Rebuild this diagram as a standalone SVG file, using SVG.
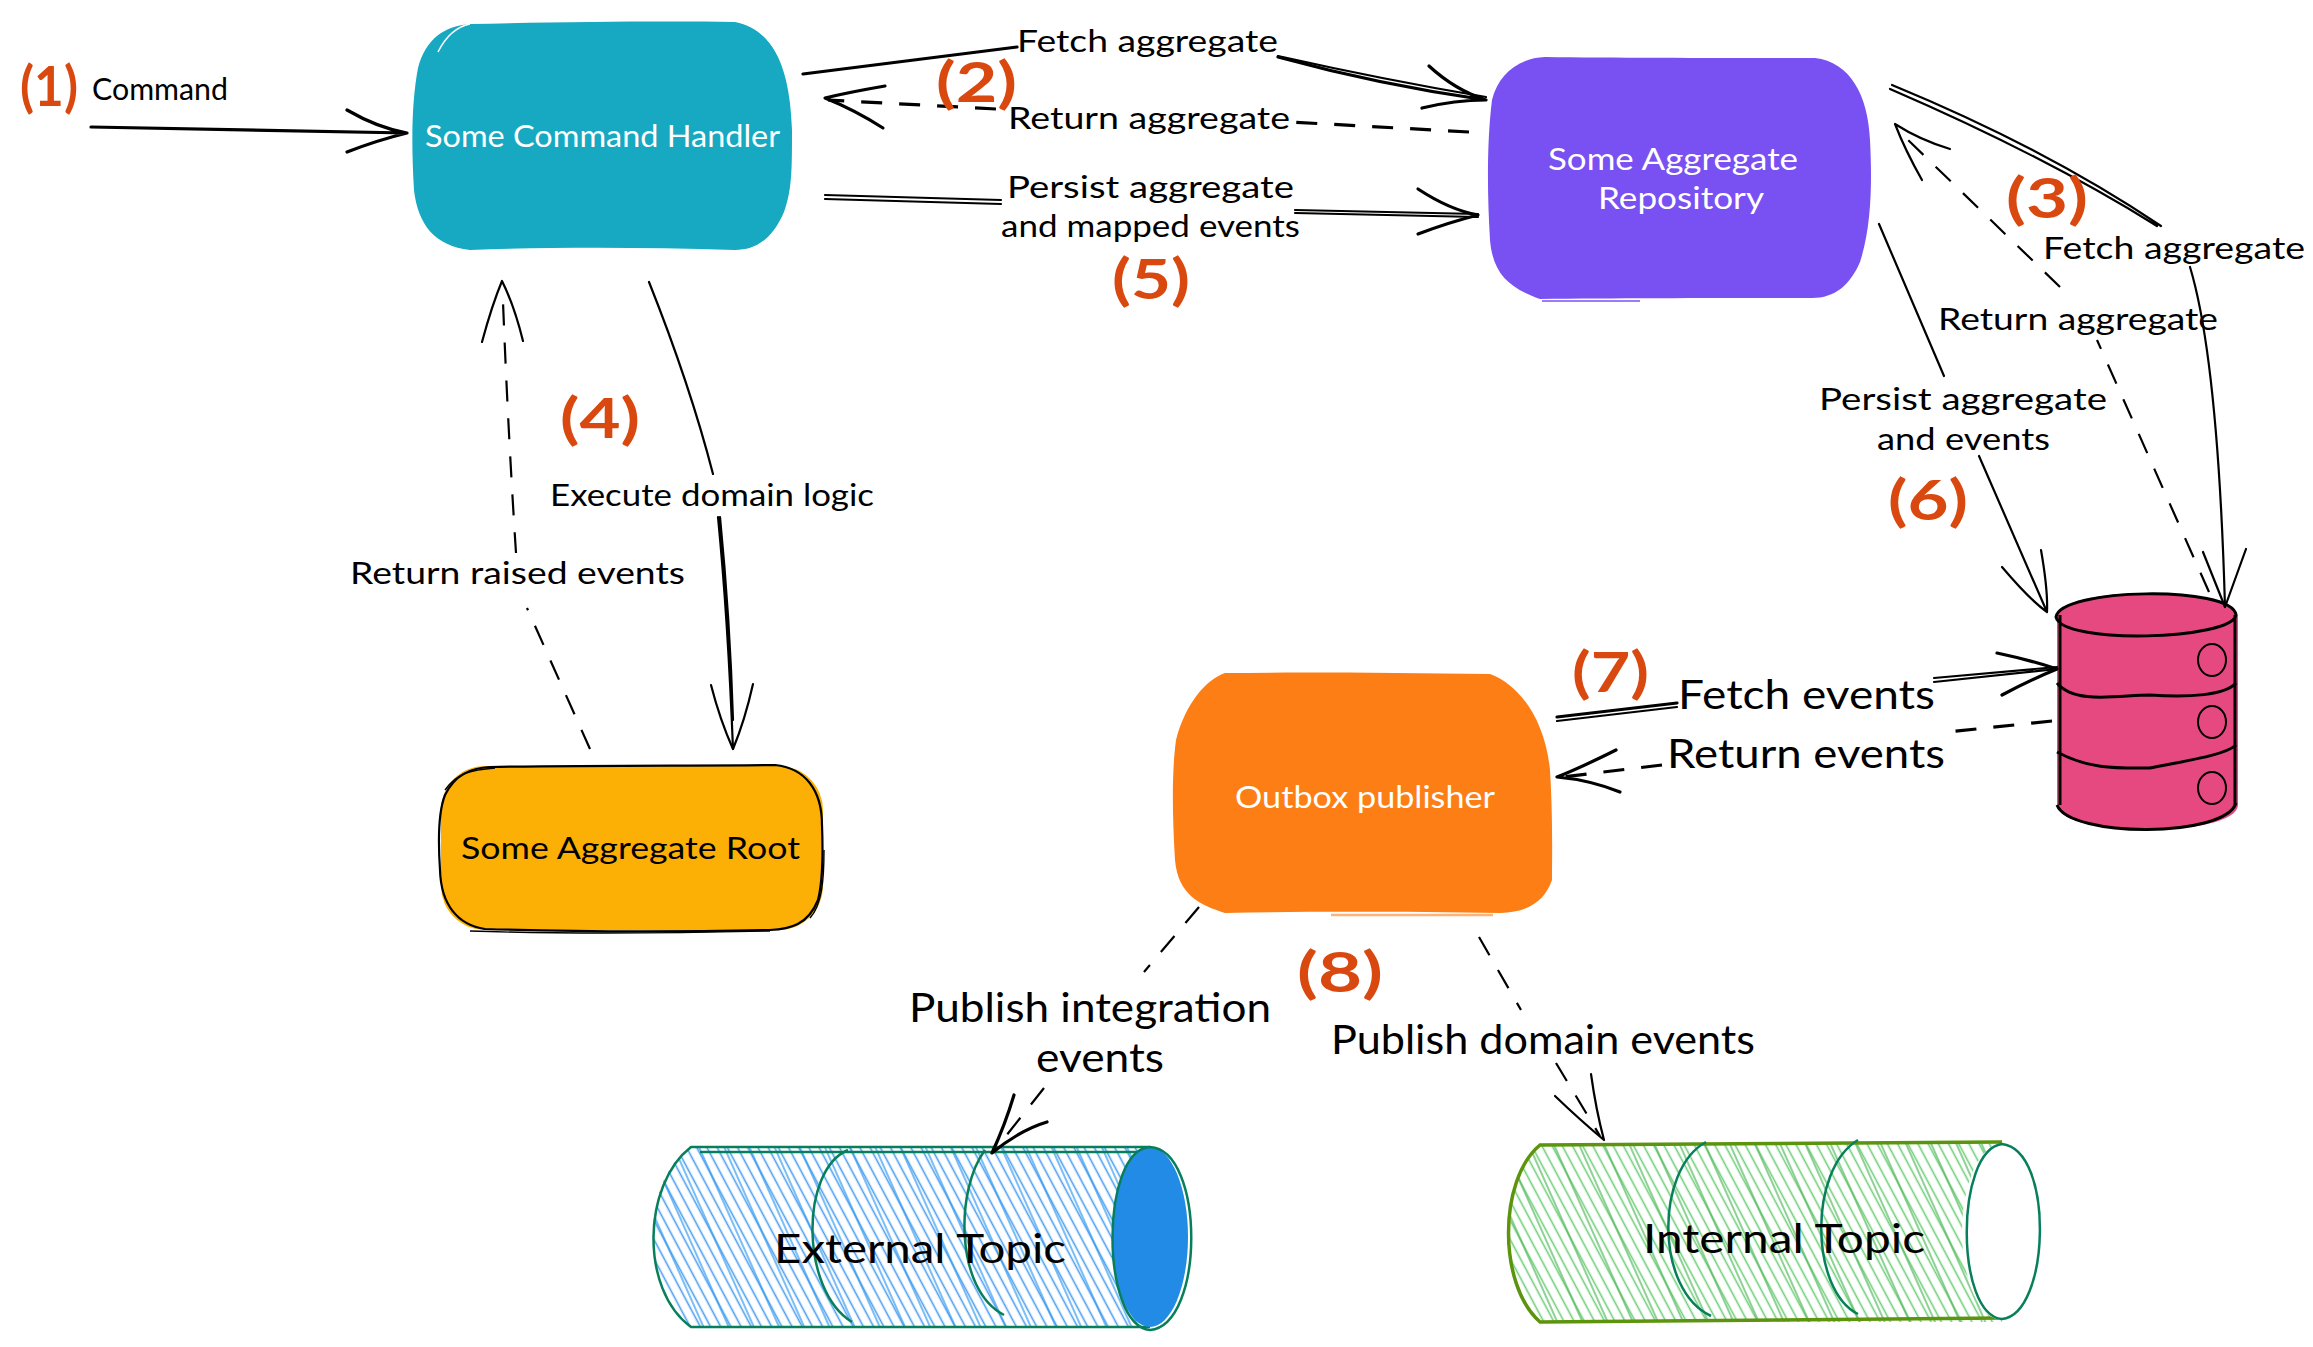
<svg xmlns="http://www.w3.org/2000/svg" width="2313" height="1347" viewBox="0 0 2313 1347">
<defs>
<style>
text{font-family:"Lato","Noto Sans",sans-serif;dominant-baseline:central;fill:#000;stroke:none}
.s{font-size:31px}
.l{font-size:40px}
.w{fill:#fff;font-size:31px}
.n{fill:#d9480f;font-size:56px;font-weight:700}
.c{fill:none;stroke:#000;stroke-width:2.2;stroke-linecap:round;stroke-linejoin:round}
.b{stroke-width:3.2}
.d{stroke-dasharray:21 17;stroke-linecap:butt}
.db{fill:none;stroke:#000;stroke-width:3}
.tp{fill:none;stroke:#087f5b;stroke-width:2.5}
.gr{fill:none;stroke:#5c940d;stroke-width:3.5}
</style>
<pattern id="hb" width="9" height="9" patternUnits="userSpaceOnUse" patternTransform="rotate(-28)"><path d="M4.5 0V9" stroke="#4a9ef0" stroke-width="1.6"/></pattern>
<pattern id="hb2" width="23" height="23" patternUnits="userSpaceOnUse" patternTransform="rotate(-24)"><path d="M11 0V23" stroke="#339af0" stroke-width="1.3"/></pattern>
<pattern id="hg" width="9" height="9" patternUnits="userSpaceOnUse" patternTransform="rotate(-28)"><path d="M4.5 0V9" stroke="#6fce78" stroke-width="1.6"/></pattern>
<pattern id="hg2" width="23" height="23" patternUnits="userSpaceOnUse" patternTransform="rotate(-24)"><path d="M11 0V23" stroke="#51b85c" stroke-width="1.3"/></pattern>
</defs>
<rect width="2313" height="1347" fill="#fff"/>

<g id="node-command-handler">
<path fill="#17a9c1" d="M470 24C560 22 660 21 735 22C775 30 790 70 792 130C792 170 792 190 784 212C772 240 755 250 735 250C640 247 550 247 470 250C435 246 418 225 414 190C411 140 412 100 418 68C426 38 445 26 470 24Z"/>
<path fill="none" stroke="#fff" stroke-width="1.5" d="M438 52Q450 28 470 24M736 20Q775 28 792 90"/>
<text class="w" x="425" y="135" textLength="355" lengthAdjust="spacingAndGlyphs">Some Command Handler</text>
</g>
<g id="node-repository">
<path fill="#7950f2" d="M1545 57C1620 58 1740 58 1815 58C1850 62 1868 95 1870 140C1872 180 1872 225 1860 262C1850 285 1835 298 1812 298C1730 298 1620 298 1540 299C1510 288 1493 275 1490 240C1487 190 1487 140 1492 100C1498 75 1518 58 1545 57Z"/>
<path fill="none" stroke="#9a7df5" stroke-width="2" d="M1542 301H1640"/>
<text class="w" x="1548" y="158" textLength="250" lengthAdjust="spacingAndGlyphs">Some Aggregate</text>
<text class="w" x="1598" y="197" textLength="166" lengthAdjust="spacingAndGlyphs">Repository</text>
</g>
<g id="node-aggregate-root">
<rect x="441" y="766" width="382" height="164" rx="44" fill="#fcb006"/>
<path fill="none" stroke="#000" stroke-width="2.2" d="M490 767C600 765 700 766 775 765C805 768 822 790 822 825C823 850 823 880 818 900C808 925 790 929 770 930C680 932 580 932 485 929C458 925 441 905 440 870C438 840 439 810 445 795C455 775 470 768 490 767Z"/>
<path fill="none" stroke="#000" stroke-width="1.4" d="M445 790C458 772 472 770 495 768M824 850C824 880 822 905 810 918M470 931C560 934 680 933 770 931"/>
<text x="461" y="847" class="s" textLength="339" lengthAdjust="spacingAndGlyphs">Some Aggregate Root</text>
</g>
<g id="node-outbox">
<path fill="#fd7e14" d="M1225 673C1310 672 1400 673 1490 674C1520 685 1545 720 1550 770C1553 820 1552 860 1552 880C1545 900 1530 912 1500 913C1420 912 1320 911 1225 913C1200 905 1178 895 1175 860C1172 810 1172 770 1176 740C1185 705 1205 680 1225 673Z"/>
<path fill="none" stroke="#fff" stroke-width="1.6" d="M1228 669Q1340 670 1490 670"/>
<path fill="none" stroke="#fdb27a" stroke-width="2.5" d="M1331 915H1493"/>
<text class="w" x="1235" y="796" textLength="260" lengthAdjust="spacingAndGlyphs">Outbox publisher</text>
</g>
<g id="node-database">
<path fill="#e64980" d="M2057 617C2058 585 2237 585 2238 617V805C2237 838 2058 838 2057 805Z"/>
<path class="db" d="M2056 617C2060 588 2232 585 2236 615C2232 640 2062 645 2056 617ZM2060 615V805M2235 615V805"/>
<path class="db" stroke-width="2" d="M2057 805C2070 838 2225 838 2236 803M2057 683C2075 705 2120 695 2150 695C2190 698 2225 695 2236 683M2057 752C2090 770 2120 768 2150 768C2190 760 2225 755 2236 745"/>
<g fill="none" stroke="#000" stroke-width="2"><ellipse cx="2212" cy="660" rx="14" ry="16"/><ellipse cx="2212" cy="722" rx="14" ry="16"/><ellipse cx="2212" cy="788" rx="14" ry="16"/></g>
</g>
<g id="node-external-topic">
<path fill="url(#hb)" d="M691 1147H1150V1327H691C640 1290 640 1180 691 1147Z"/>
<path fill="url(#hb2)" d="M691 1147H1150V1327H691C640 1290 640 1180 691 1147Z"/>
<path class="tp" d="M1150 1147H691C642 1185 640 1290 691 1327H1150M700 1152H1146M692 1327H1150"/>
<path class="tp" d="M848 1150C800 1170 800 1290 852 1322M985 1150C955 1190 955 1290 1004 1315"/>
<ellipse cx="1150" cy="1237" rx="38" ry="90" fill="#228be6"/>
<path class="tp" d="M1150 1147C1205 1150 1205 1325 1150 1330C1100 1325 1100 1150 1150 1147Z"/>
<text x="774" y="1248" class="l" textLength="292" lengthAdjust="spacingAndGlyphs">External Topic</text>
</g>
<g id="node-internal-topic">
<path fill="url(#hg)" d="M1540 1144H2002V1322H1540C1500 1290 1500 1175 1540 1144Z"/>
<path fill="url(#hg2)" d="M1540 1144H2002V1322H1540C1500 1290 1500 1175 1540 1144Z"/>
<path class="gr" d="M2002 1142L1540 1145C1498 1180 1498 1285 1540 1322L2002 1318"/>
<path class="tp" d="M1706 1142C1655 1170 1655 1290 1711 1316M1858 1140C1808 1170 1810 1290 1858 1314"/>
<ellipse cx="2002" cy="1232" rx="40" ry="88" fill="#fff"/>
<path class="tp" d="M2002 1144C2055 1150 2050 1315 2002 1319C1955 1315 1955 1150 2002 1144Z"/>
<text x="1643" y="1238" class="l" textLength="282" lengthAdjust="spacingAndGlyphs">Internal Topic</text>
</g>

<g id="connectors">
<path class="c b" d="M91 127L407 133M347 110Q378 128 407 133Q378 140 347 152"/>
<path class="c b" d="M803 74L1017 47M1278 57Q1380 85 1486 100M1429 66Q1455 90 1486 100Q1455 100 1422 108"/>
<path class="c" d="M1278 56Q1385 80 1486 97"/>
<path class="c b d" d="M1469 132L1290 122M996 109L828 100"/>
<path class="c b" d="M885 86Q850 92 825 98Q855 110 883 128"/>
<path class="c" d="M825 195L1001 200M825 199L1001 204M1295 210L1478 214M1295 213L1478 217"/>
<path class="c b" d="M1418 189Q1450 210 1478 215Q1450 222 1418 234"/>
<path class="c" d="M1892 85Q2045 148 2161 226M1890 89Q2043 155 2157 226M2190 267Q2218 360 2225 607"/>
<path class="c" d="M2203 552L2225 607L2246 549"/>
<path class="c d" d="M2209 592L2097 340M2060 287L1908 140"/>
<path class="c" d="M1950 149Q1920 140 1895 124Q1905 150 1922 180"/>
<path class="c" d="M1879 224L1944 376M1979 456L2047 612M2002 567Q2030 600 2047 612Q2048 590 2041 550"/>
<path class="c" d="M649 282Q690 385 713 474M718 517Q728 620 733 749M720 517Q730 620 733 720"/>
<path class="c" d="M711 685Q720 720 733 749Q745 720 753 684"/>
<path class="c d" d="M590 749L527 608M516 553Q508 430 503 302"/>
<path class="c" d="M482 342Q492 305 502 281Q514 305 523 341"/>
<path class="c b" d="M1557 717L1677 703"/>
<path class="c" d="M1557 721L1677 707M1934 682L2057 669M1934 678L2057 667"/>
<path class="c b" d="M1997 653Q2030 660 2057 669Q2030 680 2002 695"/>
<path class="c b d" d="M2052 721L1948 732M1662 765L1562 777"/>
<path class="c b" d="M1616 750Q1580 768 1557 777Q1590 780 1620 792"/>
<path class="c d" d="M1199 907L1144 972M1044 1088L998 1146"/>
<path class="c b" d="M1014 1095Q1005 1125 992 1153Q1020 1130 1047 1122"/>
<path class="c d" d="M1479 937L1521 1010M1556 1063L1600 1136"/>
<path class="c" d="M1555 1096Q1580 1120 1604 1140Q1596 1110 1591 1074"/>
</g>

<g id="labels">
<text class="s" x="92" y="88" textLength="136" lengthAdjust="spacingAndGlyphs">Command</text>
<text class="s" x="1017" y="40" textLength="261" lengthAdjust="spacingAndGlyphs">Fetch aggregate</text>
<text class="s" x="1008" y="117" textLength="282" lengthAdjust="spacingAndGlyphs">Return aggregate</text>
<text class="s" x="1007" y="186" textLength="287" lengthAdjust="spacingAndGlyphs">Persist aggregate</text>
<text class="s" x="1001" y="225" textLength="299" lengthAdjust="spacingAndGlyphs">and mapped events</text>
<text class="s" x="2043" y="247" textLength="262" lengthAdjust="spacingAndGlyphs">Fetch aggregate</text>
<text class="s" x="1938" y="318" textLength="280" lengthAdjust="spacingAndGlyphs">Return aggregate</text>
<text class="s" x="1819" y="398" textLength="288" lengthAdjust="spacingAndGlyphs">Persist aggregate</text>
<text class="s" x="1877" y="438" textLength="173" lengthAdjust="spacingAndGlyphs">and events</text>
<text class="s" x="550" y="494" textLength="324" lengthAdjust="spacingAndGlyphs">Execute domain logic</text>
<text class="s" x="350" y="572" textLength="335" lengthAdjust="spacingAndGlyphs">Return raised events</text>
<text class="l" x="1678" y="694" textLength="257" lengthAdjust="spacingAndGlyphs">Fetch events</text>
<text class="l" x="1667" y="753" textLength="278" lengthAdjust="spacingAndGlyphs">Return events</text>
<text class="l" x="909" y="1007" textLength="362" lengthAdjust="spacingAndGlyphs">Publish integration</text>
<text class="l" x="1036" y="1057" textLength="128" lengthAdjust="spacingAndGlyphs">events</text>
<text class="l" x="1331" y="1039" textLength="424" lengthAdjust="spacingAndGlyphs">Publish domain events</text>
</g>

<g id="step-numbers">
<text class="n" x="20" y="84" textLength="58" lengthAdjust="spacingAndGlyphs">(1)</text>
<text class="n" x="936" y="80" textLength="81" lengthAdjust="spacingAndGlyphs">(2)</text>
<text class="n" x="2006" y="196" textLength="82" lengthAdjust="spacingAndGlyphs">(3)</text>
<text class="n" x="560" y="416" textLength="80" lengthAdjust="spacingAndGlyphs">(4)</text>
<text class="n" x="1112" y="277" textLength="78" lengthAdjust="spacingAndGlyphs">(5)</text>
<text class="n" x="1888" y="498" textLength="80" lengthAdjust="spacingAndGlyphs">(6)</text>
<text class="n" x="1572" y="670" textLength="77" lengthAdjust="spacingAndGlyphs">(7)</text>
<text class="n" x="1297" y="970" textLength="86" lengthAdjust="spacingAndGlyphs">(8)</text>
</g>
</svg>
